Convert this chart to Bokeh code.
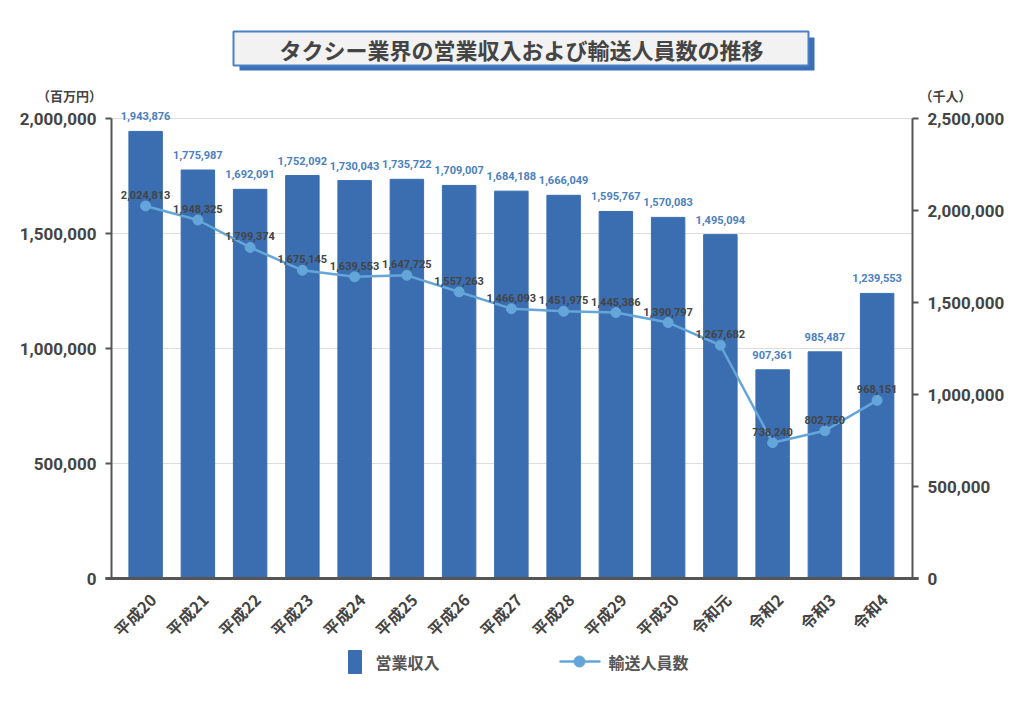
from bokeh.plotting import figure
from bokeh.models import ColumnDataSource, Range1d
from bokeh.core.properties import value
from bokeh.embed import file_html
from bokeh.resources import INLINE
import math

# data
years = ["平成20", "平成21", "平成22", "平成23", "平成24", "平成25", "平成26", "平成27",
         "平成28", "平成29", "平成30", "令和元", "令和2", "令和3", "令和4"]
revenue = [1943876, 1775987, 1692091, 1752092, 1730043, 1735722, 1709007, 1684188,
           1666049, 1595767, 1570083, 1495094, 907361, 985487, 1239553]
passengers = [2024813, 1948325, 1799374, 1675145, 1639553, 1647725, 1557263, 1466093,
              1451975, 1445386, 1390797, 1267682, 738240, 802750, 968151]
left_ticks = [0, 500000, 1000000, 1500000, 2000000]
right_ticks = [0, 500000, 1000000, 1500000, 2000000, 2500000]
title = "タクシー業界の営業収入および輸送人員数の推移"
left_unit = "（百万円）"
right_unit = "（千人）"
legend_bar = "営業収入"
legend_line = "輸送人員数"

BAR = "#3a6eb0"
LINE = "#64a6da"
DARK = "#444444"
AXIS = "#555555"
JP = value("Noto Sans CJK JP")
NUM = value("Roboto")

# page geometry (pixels)
W, H = 1020, 704
LEFT, RIGHT, TOP, BOTTOM = 111, 912, 118, 578
CAT0, cat_w = 119, 52.25          # left edge of first category slot, slot width
ppu_l = (BOTTOM - TOP) / left_ticks[-1]
ppu_r = (BOTTOM - TOP) / right_ticks[-1]
n = len(years)

p = figure(width=W, height=H, output_backend="svg", toolbar_location=None,
           x_range=Range1d(0, W), y_range=Range1d(-(H - BOTTOM) / ppu_l, BOTTOM / ppu_l),
           x_axis_location=None, y_axis_location=None,
           min_border=0, min_border_left=0, min_border_right=0, min_border_top=0, min_border_bottom=0)
p.outline_line_color = None
p.grid.visible = False
p.extra_y_ranges = {"right": Range1d(-(H - BOTTOM) / ppu_r, BOTTOM / ppu_r),
                    "py": Range1d(H, 0)}
p.extra_x_ranges = {"cat": Range1d(-CAT0 / cat_w, (W - CAT0) / cat_w)}

src = ColumnDataSource(dict(
    x=[i + 0.5 for i in range(n)], year=years, rev=revenue, pas=passengers, zero=[0] * n,
    rev_lbl=["{:,}".format(v) for v in revenue],
    pas_lbl=["{:,}".format(v) for v in passengers],
))
lt = ColumnDataSource(dict(y=left_ticks, lbl=["{:,}".format(v) for v in left_ticks]))
rt = ColumnDataSource(dict(y=right_ticks, lbl=["{:,}".format(v) for v in right_ticks]))

# grid lines (left axis ticks)
p.segment(x0=LEFT, x1=RIGHT, y0="y", y1="y", source=lt, line_color="#dddddd", line_width=1)

# bars, line, points
p.vbar(x="x", top="rev", width=0.64, source=src, x_range_name="cat",
       fill_color=BAR, line_color=BAR)
p.line(x="x", y="pas", source=src, x_range_name="cat", y_range_name="right",
       line_color=LINE, line_width=2.5)
p.scatter(x="x", y="pas", source=src, x_range_name="cat", y_range_name="right", size=10,
          fill_color=LINE, line_color=LINE)

# data labels
p.text(x="x", y="rev", text="rev_lbl", source=src, x_range_name="cat", text_align="center",
       text_baseline="bottom", y_offset=-11, text_font=NUM, text_font_style="bold",
       text_font_size="11px", text_color="#4a7fc0")
p.text(x="x", y="pas", text="pas_lbl", source=src, x_range_name="cat", y_range_name="right",
       text_align="center", text_baseline="bottom", y_offset=-7, text_font=NUM,
       text_font_style="bold", text_font_size="11px", text_color=DARK)

# axes lines and ticks
p.segment(x0=LEFT, x1=LEFT, y0=0, y1=left_ticks[-1], line_color=AXIS, line_width=2)
p.segment(x0=RIGHT, x1=RIGHT, y0=0, y1=right_ticks[-1], y_range_name="right",
          line_color=AXIS, line_width=2)
p.segment(x0=LEFT - 6, x1=LEFT, y0="y", y1="y", source=lt, line_color=AXIS, line_width=2)
p.segment(x0=RIGHT, x1=RIGHT + 6, y0="y", y1="y", source=rt, y_range_name="right",
          line_color=AXIS, line_width=2)
p.segment(x0=LEFT - 6, x1=RIGHT + 6, y0=0, y1=0, line_color=AXIS, line_width=3)

# tick labels
p.text(x=LEFT - 15, y="y", text="lbl", source=lt, text_align="right",
       text_baseline="middle", text_font=NUM, text_font_style="bold",
       text_font_size="17px", text_color=DARK)
p.text(x=RIGHT + 15, y="y", text="lbl", source=rt, y_range_name="right",
       text_align="left", text_baseline="middle", text_font=NUM, text_font_style="bold",
       text_font_size="17px", text_color=DARK)
p.text(x="x", y="zero", text="year", source=src, x_range_name="cat", angle=math.pi / 4,
       text_align="right", text_baseline="middle", x_offset=7, y_offset=18, text_font=JP,
       text_font_style="bold", text_font_size="16px", text_color=DARK)

# unit labels
p.text(x=[69, 945], y=[95, 95], text=[left_unit, right_unit], y_range_name="py",
       text_align="center", text_baseline="middle", text_font=JP,
       text_font_style="bold", text_font_size="13px", text_color=DARK)

# title box with shadow
p.quad(left=239, right=814, top=37, bottom=70, y_range_name="py",
       fill_color="#3a6fb5", line_color=None)
p.quad(left=233, right=808, top=31, bottom=65, y_range_name="py",
       fill_color="#f2f2f2", line_color="#4a80c4", line_width=2)
p.text(x=[521], y=[48], text=[title], y_range_name="py",
       text_align="center", text_baseline="middle", text_font=JP, text_font_style="bold",
       text_font_size="22px", text_color=DARK)

# legend
p.quad(left=348, right=361, top=650, bottom=673, y_range_name="py",
       fill_color=BAR, line_color=BAR)
p.segment(x0=559, x1=600, y0=661, y1=661, y_range_name="py",
          line_color=LINE, line_width=2.5)
p.scatter(x=[579], y=[661], y_range_name="py", size=11, fill_color=LINE, line_color=LINE)
p.text(x=[375, 608], y=[661, 661], text=[legend_bar, legend_line], y_range_name="py",
       text_align="left", text_baseline="middle", text_font=JP,
       text_font_style="bold", text_font_size="16px", text_color=AXIS)

open("out.html", "w").write(file_html(p, INLINE))
